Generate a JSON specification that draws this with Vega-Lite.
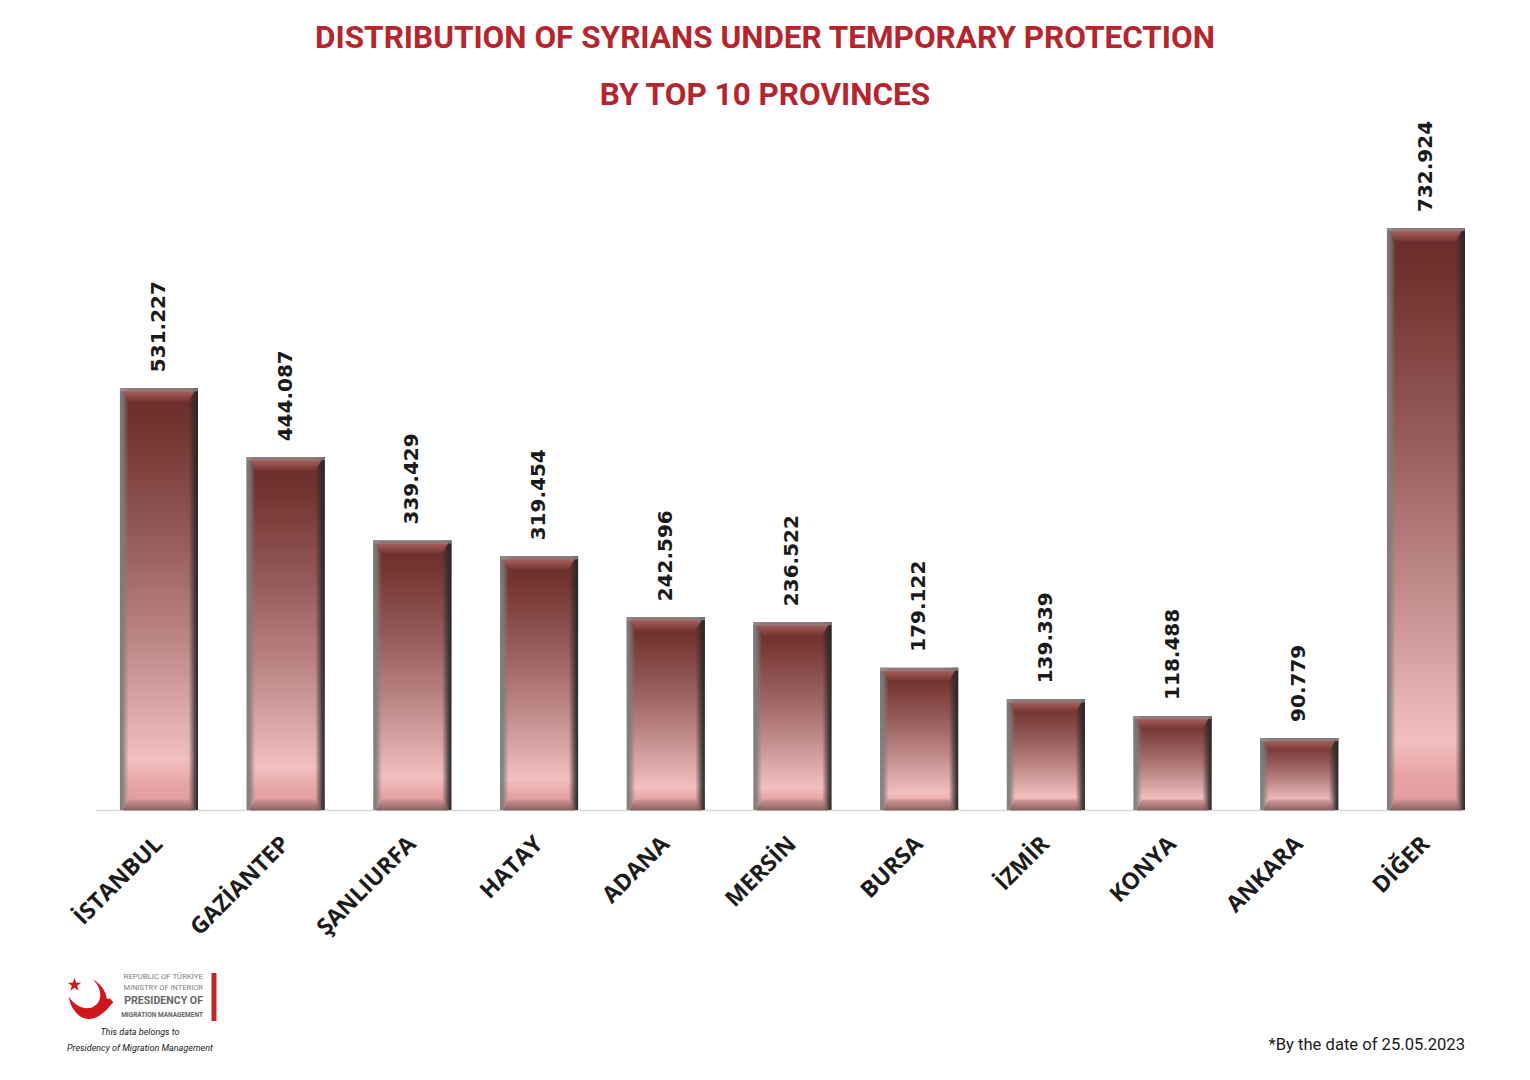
{
  "$schema": "https://vega.github.io/schema/vega-lite/v6.json",
  "width": 1370,
  "height": 690,
  "autosize": {"type": "none"},
  "padding": {"left": 95, "top": 120, "right": 65, "bottom": 270},
  "background": "white",
  "view": {"stroke": null},
  "title": {
    "text": ["DISTRIBUTION OF SYRIANS UNDER TEMPORARY PROTECTION", "BY TOP 10 PROVINCES"],
    "font": "Roboto",
    "fontWeight": "bold",
    "fontSize": 31.5,
    "lineHeight": 57,
    "color": "#b5252e",
    "anchor": "middle",
    "dx": -15,
    "offset": 9
  },
  "data": {
    "values": [
      {"province": "İSTANBUL", "people": 531227, "label": "531.227"},
      {"province": "GAZİANTEP", "people": 444087, "label": "444.087"},
      {"province": "ŞANLIURFA", "people": 339429, "label": "339.429"},
      {"province": "HATAY", "people": 319454, "label": "319.454"},
      {"province": "ADANA", "people": 242596, "label": "242.596"},
      {"province": "MERSİN", "people": 236522, "label": "236.522"},
      {"province": "BURSA", "people": 179122, "label": "179.122"},
      {"province": "İZMİR", "people": 139339, "label": "139.339"},
      {"province": "KONYA", "people": 118488, "label": "118.488"},
      {"province": "ANKARA", "people": 90779, "label": "90.779"},
      {"province": "DİĞER", "people": 732924, "label": "732.924"}
    ]
  },
  "encoding": {
    "x": {
      "field": "province",
      "type": "nominal",
      "sort": null,
      "scale": {
        "domain": ["İSTANBUL", "GAZİANTEP", "ŞANLIURFA", "HATAY", "ADANA", "MERSİN", "BURSA", "İZMİR", "KONYA", "ANKARA", "DİĞER"],
        "paddingInner": 0.384,
        "paddingOuter": 0.0985,
        "align": 1
      },
      "axis": {
        "title": null,
        "labelAngle": -45,
        "labelAlign": "right",
        "labelBaseline": "middle",
        "labelFont": "Open Sans",
        "labelFontWeight": "bold",
        "labelFontSize": 23,
        "labelColor": "#1c1c1c",
        "labelPadding": 30,
        "labelOverlap": false,
        "ticks": false,
        "domainColor": "#d9d9d9",
        "domainWidth": 1.5,
        "grid": false
      }
    },
    "y": {
      "field": "people",
      "type": "quantitative",
      "scale": {"domain": [0, 868944], "nice": false},
      "axis": null
    }
  },
  "layer": [
    {
      "mark": {
        "type": "bar",
        "color": {
          "gradient": "linear",
          "x1": 0, "y1": 0, "x2": 0, "y2": 1,
          "stops": [
            {"offset": 0, "color": "#6a2b2b"},
            {"offset": 0.1, "color": "#73352f"},
            {"offset": 0.35, "color": "#955a5a"},
            {"offset": 0.6, "color": "#bd8786"},
            {"offset": 0.88, "color": "#f2bfbf"},
            {"offset": 0.94, "color": "#e7a5a5"},
            {"offset": 1, "color": "#e09a9a"}
          ]
        }
      }
    },
    {
      "mark": {
        "type": "bar",
        "color": {
          "gradient": "linear",
          "x1": 0, "y1": 0, "x2": 1, "y2": 0,
          "stops": [
            {"offset": 0, "color": "rgba(125,125,125,1)"},
            {"offset": 0.04, "color": "rgba(125,125,125,0.85)"},
            {"offset": 0.11, "color": "rgba(125,125,125,0)"},
            {"offset": 0.88, "color": "rgba(40,40,40,0)"},
            {"offset": 0.96, "color": "rgba(40,40,40,0.75)"},
            {"offset": 1, "color": "rgba(40,40,40,1)"}
          ]
        }
      }
    },
    {
      "mark": {
        "type": "point",
        "shape": "M -1 -0.15 L 1 -0.15 L 0.82 0.15 L -0.82 0.15 Z",
        "filled": true,
        "opacity": 1,
        "size": 5184,
        "yOffset": 8,
        "color": {
          "gradient": "linear",
          "x1": 0, "y1": 0, "x2": 0, "y2": 1,
          "stops": [
            {"offset": 0, "color": "#a8625f"},
            {"offset": 1, "color": "#74342f"}
          ]
        }
      }
    },
    {
      "mark": {"type": "tick", "orient": "horizontal", "color": "#999999", "size": 78, "thickness": 3, "yOffset": 1.5}
    },
    {
      "mark": {
        "type": "point",
        "shape": "M -1 0.15 L 1 0.15 L 0.85 -0.15 L -0.85 -0.15 Z",
        "filled": true,
        "opacity": 0.75,
        "size": 5184,
        "yOffset": -5,
        "color": {
          "gradient": "linear",
          "x1": 0, "y1": 0, "x2": 0, "y2": 1,
          "stops": [
            {"offset": 0, "color": "#c9908e"},
            {"offset": 1, "color": "#6f5050"}
          ]
        }
      },
      "encoding": {"y": {"datum": 0}}
    },
    {
      "mark": {
        "type": "text",
        "angle": 270,
        "align": "left",
        "baseline": "middle",
        "dx": 16,
        "font": "DejaVu Sans",
        "fontWeight": "bold",
        "fontSize": 20,
        "color": "#1a1a1a"
      },
      "encoding": {"text": {"field": "label"}}
    },
    {
      "data": {"values": [{"province": "DİĞER", "people": 0, "note": "*By the date of 25.05.2023"}]},
      "mark": {"type": "text", "align": "right", "baseline": "middle", "dx": 39, "dy": 235, "font": "Roboto", "fontSize": 16.6, "color": "#1a1a1a"},
      "encoding": {"text": {"field": "note"}}
    },
    {
      "data": {"values": [{"province": "İSTANBUL", "people": 0, "note": "REPUBLIC OF TÜRKİYE"}]},
      "mark": {"type": "text", "align": "right", "baseline": "middle", "dx": 44, "dy": 167, "font": "Roboto", "fontSize": 7.8, "color": "#808080"},
      "encoding": {"text": {"field": "note"}}
    },
    {
      "data": {"values": [{"province": "İSTANBUL", "people": 0, "note": "MINISTRY OF INTERIOR"}]},
      "mark": {"type": "text", "align": "right", "baseline": "middle", "dx": 44, "dy": 178, "font": "Roboto", "fontSize": 7.5, "color": "#808080"},
      "encoding": {"text": {"field": "note"}}
    },
    {
      "data": {"values": [{"province": "İSTANBUL", "people": 0, "note": "PRESIDENCY OF"}]},
      "mark": {"type": "text", "align": "right", "baseline": "middle", "dx": 44, "dy": 191, "font": "Roboto", "fontWeight": "bold", "fontSize": 10.6, "color": "#666666"},
      "encoding": {"text": {"field": "note"}}
    },
    {
      "data": {"values": [{"province": "İSTANBUL", "people": 0, "note": "MIGRATION MANAGEMENT"}]},
      "mark": {"type": "text", "align": "right", "baseline": "middle", "dx": 44, "dy": 205, "font": "Roboto", "fontWeight": "bold", "fontSize": 6.5, "color": "#666666"},
      "encoding": {"text": {"field": "note"}}
    },
    {
      "data": {"values": [{"province": "İSTANBUL", "people": 0, "note": "This data belongs to"}]},
      "mark": {"type": "text", "align": "center", "baseline": "middle", "dx": -19, "dy": 222, "font": "Roboto", "fontStyle": "italic", "fontSize": 9, "color": "#1a1a1a"},
      "encoding": {"text": {"field": "note"}}
    },
    {
      "data": {"values": [{"province": "İSTANBUL", "people": 0, "note": "Presidency of Migration Management"}]},
      "mark": {"type": "text", "align": "center", "baseline": "middle", "dx": -19, "dy": 238, "font": "Roboto", "fontStyle": "italic", "fontSize": 9, "color": "#1a1a1a"},
      "encoding": {"text": {"field": "note"}}
    },
    {
      "data": {"values": [{"province": "İSTANBUL", "people": 0}]},
      "mark": {"type": "rule", "color": "#c0272d", "strokeWidth": 5, "xOffset": 55, "yOffset": 163, "y2Offset": 211},
      "encoding": {"y2": {"datum": 0}}
    },
    {
      "data": {"values": [{"province": "İSTANBUL", "people": 0}]},
      "mark": {"type": "point", "shape": "M -1 -0.1 C -0.9 0.5 -0.5 0.9 -0.1 0.9 C 0.35 0.9 0.7 0.5 1 0.15 L 0.85 -0.02 L 0.72 0 C 0.65 -0.4 0.4 -0.7 0.1 -0.87 C 0.4 -0.55 0.5 -0.2 0.35 0.1 C 0.15 0.5 -0.5 0.6 -1 -0.1 Z", "filled": true, "color": "#d0161c", "opacity": 1, "size": 1990, "xOffset": -68, "yOffset": 189}
    },
    {
      "data": {"values": [{"province": "İSTANBUL", "people": 0}]},
      "mark": {"type": "point", "shape": "M 0 -1 L 0.24 -0.31 L 0.95 -0.31 L 0.38 0.12 L 0.59 0.81 L 0 0.4 L -0.59 0.81 L -0.38 0.12 L -0.95 -0.31 L -0.24 -0.31 Z", "filled": true, "color": "#d0161c", "opacity": 1, "size": 200, "xOffset": -84.5, "yOffset": 175}
    }
  ]
}
